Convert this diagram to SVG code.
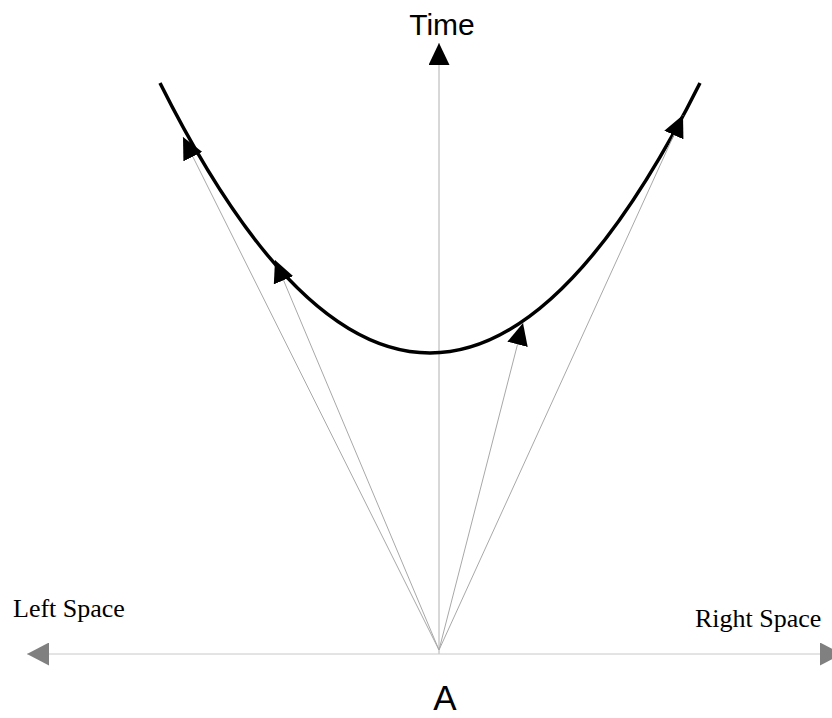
<svg xmlns="http://www.w3.org/2000/svg" width="832" height="718" viewBox="0 0 832 718">
<style>
.sans{font-family:"Liberation Sans",Arial,sans-serif;fill:#000}
.serif{font-family:"Liberation Serif","Times New Roman",serif;fill:#000}
.vec{stroke:#a8a8a8;stroke-width:1;fill:none;marker-end:url(#ah)}
.axis{stroke:#b0b0b0;stroke-width:1;fill:none}
</style>
<defs>
<marker id="ah" viewBox="0 0 22 21" refX="22" refY="10.5" markerWidth="22" markerHeight="21" markerUnits="userSpaceOnUse" orient="auto">
<path d="M0,0 L22,10.5 L0,21 z" fill="#000"/>
</marker>
<marker id="gh" viewBox="0 0 22 23" refX="22" refY="11.5" markerWidth="22" markerHeight="23" markerUnits="userSpaceOnUse" orient="auto-start-reverse">
<path d="M0,0 L22,11.5 L0,23 z" fill="#808080"/>
</marker>
</defs>
<rect width="832" height="718" fill="#fff"/>
<g id="axes">
<line id="time-axis" class="axis" x1="439" y1="654" x2="439" y2="43" marker-end="url(#ah)"/>
<line id="space-axis" x1="27" y1="654" x2="842" y2="654" stroke="#c8c8c8" stroke-width="1" marker-start="url(#gh)" marker-end="url(#gh)"/>
</g>
<g id="worldline">
<path d="M160,83 Q430,623 700,83" fill="none" stroke="#000" stroke-width="3.5"/>
</g>
<g id="connectors">
<line class="vec" x1="439" y1="650" x2="183" y2="137"/>
<line class="vec" x1="439" y1="650" x2="275" y2="260"/>
<line class="vec" x1="439" y1="650" x2="523" y2="323"/>
<line class="vec" x1="439" y1="650" x2="683" y2="115"/>
</g>
<g id="label-time"><text class="sans" x="442" y="35" font-size="30" text-anchor="middle">Time</text></g>
<g id="label-left"><text class="serif" x="13" y="617" font-size="26">Left Space</text></g>
<g id="label-right"><text class="serif" x="695" y="627" font-size="26">Right Space</text></g>
<g id="label-a"><text class="sans" x="445" y="710" font-size="35" text-anchor="middle">A</text></g>
</svg>
